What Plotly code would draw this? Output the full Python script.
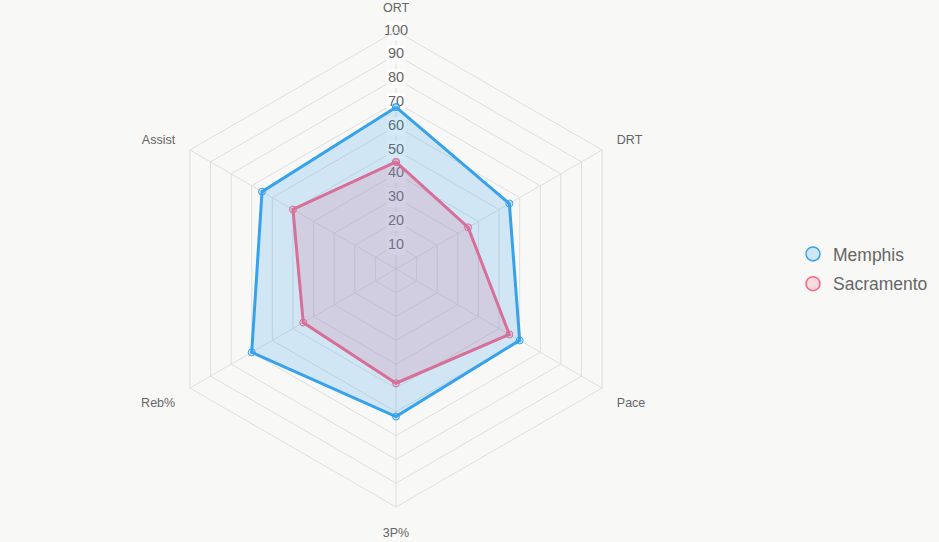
import plotly.graph_objects as go

categories = ["ORT", "DRT", "Pace", "3P%", "Reb%", "Assist"]
memphis = [68, 55, 60, 62, 70, 65]
sacramento = [45, 35, 55, 48, 45, 50]
tick_values = [10, 20, 30, 40, 50, 60, 70, 80, 90, 100]
tick_labels = [str(v) for v in tick_values]

FONT = "Liberation Sans, Arial, Helvetica, sans-serif"
BG = "#f8f8f7"
GRID = "#dfdfdf"
BLUE = "rgb(54,162,235)"
BLUE_FILL = "rgba(54,162,235,0.2)"
PINK = "rgb(255,99,132)"
PINK_FILL = "rgba(255,99,132,0.2)"

fig = go.Figure()

# radial tick labels with light backdrop
fig.add_trace(go.Scatterpolar(
    r=tick_values, theta=[categories[0]] * len(tick_values),
    mode="markers+text", text=tick_labels,
    marker=dict(symbol="square", size=19, color="rgba(255,255,255,0.75)", line=dict(width=0)),
    textfont=dict(family=FONT, size=14.5, color="#666666"),
    textposition="middle center",
    showlegend=False, hoverinfo="skip",
))

def closed(vals):
    return vals + vals[:1]

thetas = closed(categories)

fig.add_trace(go.Scatterpolar(
    r=closed(sacramento), theta=thetas, name="Sacramento",
    mode="lines+markers", fill="toself", fillcolor=PINK_FILL,
    line=dict(color=PINK, width=3),
    marker=dict(size=7, color=PINK_FILL, line=dict(color=PINK, width=1)),
    showlegend=False,
))
fig.add_trace(go.Scatterpolar(
    r=closed(memphis), theta=thetas, name="Memphis",
    mode="lines+markers", fill="toself", fillcolor=BLUE_FILL,
    line=dict(color=BLUE, width=3),
    marker=dict(size=7, color=BLUE_FILL, line=dict(color=BLUE, width=1)),
    showlegend=False,
))

# legend entries (circles)
for name, lc, fc in [("Memphis", BLUE, BLUE_FILL), ("Sacramento", PINK, PINK_FILL)]:
    fig.add_trace(go.Scatterpolar(
        r=[None], theta=[categories[0]], name=name, mode="markers",
        marker=dict(symbol="circle", size=14, color=fc, line=dict(color=lc, width=1.5)),
        legendgroup=name, showlegend=True,
    ))

fig.update_layout(
    width=939, height=542,
    margin=dict(l=0, r=0, t=0, b=0),
    paper_bgcolor=BG, plot_bgcolor=BG,
    font=dict(family=FONT, color="#666666"),
    polar=dict(
        domain=dict(x=[158 / 939, 634 / 939], y=[1 - 507 / 542, 1 - 31 / 542]),
        bgcolor="rgba(0,0,0,0)",
        gridshape="linear",
        radialaxis=dict(range=[0, 100], dtick=10, showticklabels=False, ticks="",
                        showline=False, gridcolor=GRID, gridwidth=1, angle=90),
        angularaxis=dict(direction="clockwise", rotation=90, categoryorder="array",
                         categoryarray=categories,
                         gridcolor=GRID, linecolor=GRID, linewidth=1, showline=True,
                         ticks="outside", ticklen=14, tickcolor="rgba(0,0,0,0)",
                         tickfont=dict(family=FONT, size=12.5, color="#666666")),
    ),
    legend=dict(x=793 / 939, xanchor="left", y=1 - 269 / 542, yanchor="middle",
                font=dict(family=FONT, size=17.5, color="#666666"),
                bgcolor="rgba(0,0,0,0)", traceorder="grouped", tracegroupgap=4),
    showlegend=True,
)

fig.write_html("out.html")
